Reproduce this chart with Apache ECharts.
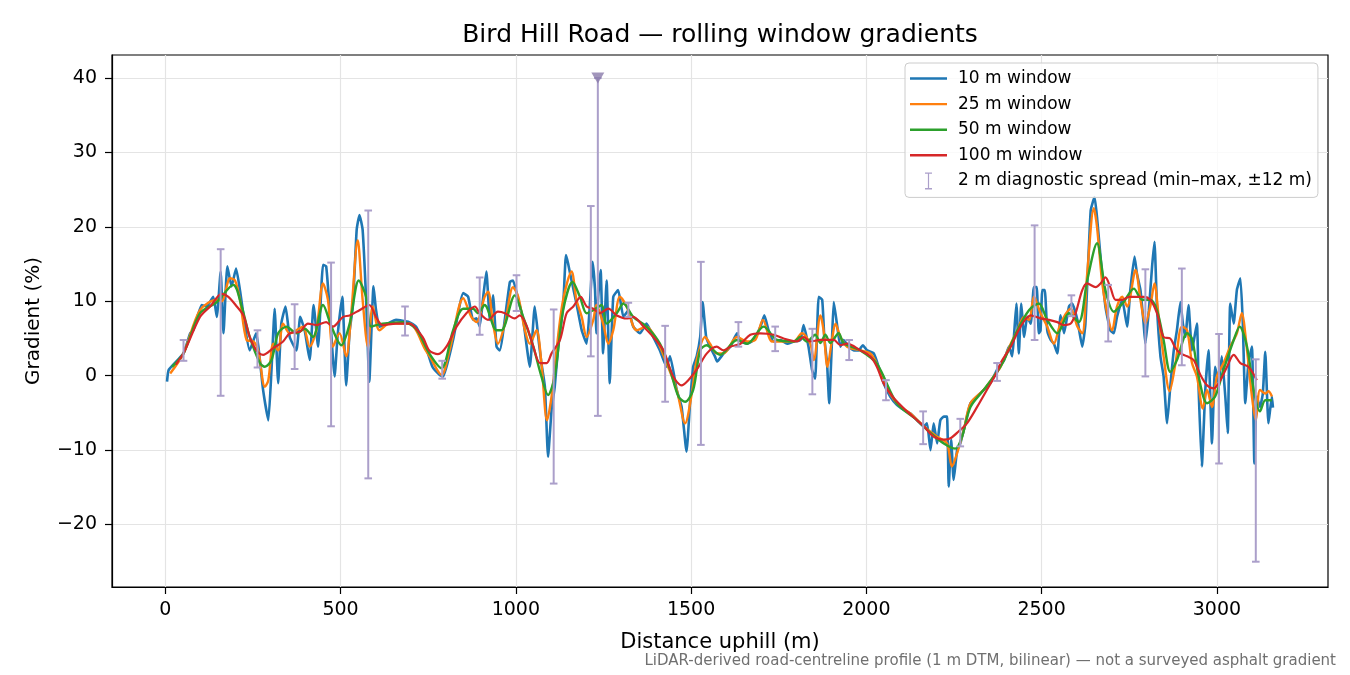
<!DOCTYPE html>
<html>
<head>
<meta charset="utf-8">
<title>Bird Hill Road gradients</title>
<script src="https://cdn.jsdelivr.net/npm/echarts@6/dist/echarts.min.js"></script>
<style>
  html, body { margin: 0; padding: 0; background: #fff; }
  #chart { width: 1350px; height: 675px; }
</style>
</head>
<body>
<div id="chart"></div>
<script>
// 10 m window (peaks and troughs)
var dist10 = [
  5,10,52,71,80,104,118,137,147,158,166,177,189,202,213,241,259,279,294,303,
  312,322,331,343,355,374,385,398,412,423,436,450,459,469,483,492,505,516,526,535,
  546,554,563,573,582,594,601,611,639,658,696,715,743,762,
  783,793,821,850,864,878,888,897,907,916,926,935,945,954,983,992,1007,1021,1040,1054,
  1064,1073,1083,1092,1102,1111,1121,1135,1143,1149,1159,1173,1188,1202,1211,1219,1226,1230,1235,1242,
  1249,1259,1268,1278,1292,1307,1321,1335,1354,1373,1392,1411,1430,1440,1459,1473,1487,1497,1506,1516,
  1526,1533,1543,1554,1568,
  1574,1593,1612,1631,1641,1660,1679,1698,1709,1721,1736,1755,1774,1793,1812,1821,1835,1845,1854,1864,
  1874,1880,1888,1894,1902,1907,1916,1926,1935,1950,1964,1978,1990,2002,2021,2035,2049,2068,2087,2107,
  2126,2145,2164,2173,2183,2192,2202,2211,2221,2230,2235,2242,2249,2259,2268,2278,2297,2316,2335,2354,2373,
  2393,2407,2416,2421,2428,2435,2442,2450,2459,2469,2478,2486,2492,2497,2502,2509,2516,2526,2535,2545,
  2554,2564,2578,2587,2602,2616,2625,2640,2651,2658,2668,2682,2696,2706,2715,2730,2744,2753,2765,2772,
  2782,2791,2796,2806,2815,2822,2829,2839,2848,2858,2867,2877,2886,2896,2903,2910,2919,2929,2943,2948,
  2957,2967,2976,2986,2995,3005,3014,3024,3031,3038,3048,3057,3067,3074,3081,3090,3100,3107,3114,3123,
  3131,3138,3147,3157,3160
];
var grad10 = [
  -0.8,0.8,3.0,5.7,6.1,9.5,9.3,10.6,7.9,14.0,5.7,14.7,12.0,14.4,11.5,3.4,5.7,-1.9,-6.0,0.8,
  9.0,-1.0,7.0,9.3,5.2,3.4,7.9,6.0,2.1,9.5,3.9,14.9,14.7,8.8,-0.1,5.6,10.6,-1.3,6.0,9.3,
  19.6,21.6,19.6,10.2,-0.8,12.0,8.9,6.6,7.1,7.5,7.2,6.6,3.9,1.2,
  0.1,-0.1,4.8,11.1,10.6,7.5,7.7,6.6,10.6,14.0,7.5,10.8,3.9,3.4,12.6,12.8,10.2,7.5,1.2,9.3,
  5.2,1.7,-1.5,-10.9,-4.6,-1.5,3.9,9.3,16.2,15.1,12.8,9.7,6.1,4.3,9.3,15.3,11.5,5.7,10.6,14.2,
  3.0,12.8,-1.0,10.6,11.5,7.9,8.8,6.6,5.7,7.0,5.2,3.4,1.2,2.6,-1.9,-4.2,-10.2,-3.7,1.2,2.6,
  5.2,9.9,5.2,3.9,2.6,
  1.9,3.0,3.9,5.7,4.6,4.3,4.8,6.6,8.1,6.1,4.6,4.8,4.3,4.6,4.8,6.8,3.9,0.8,-0.4,10.6,
  10.2,5.2,1.6,-3.7,4.8,9.9,7.0,3.9,4.8,3.9,3.4,3.4,4.1,3.4,3.0,1.2,-1.0,-2.8,-3.9,-4.6,
  -5.1,-6.0,-6.8,-6.4,-10.0,-6.4,-9.1,-6.0,-5.5,-5.5,-14.9,-8.6,-14.0,-10.0,-9.1,-7.3,-3.7,-2.8,-1.9,-1.0,0.8,
  2.1,3.9,2.6,5.2,9.7,3.0,9.7,5.2,7.9,7.0,11.9,11.9,5.7,6.1,11.5,11.5,6.1,4.8,4.3,3.0,
  8.1,5.7,9.3,9.7,7.5,3.9,7.0,22.2,24.0,21.3,16.0,9.3,6.1,5.7,7.9,10.2,6.6,11.5,16.0,13.7,
  11.5,7.0,4.3,8.8,14.6,18.0,9.3,2.6,-0.1,-6.4,-1.5,3.4,6.1,9.9,7.0,5.2,9.5,3.4,7.0,-1.9,
  -12.2,-1.9,3.4,-9.1,1.2,-1.0,2.6,-2.8,-7.7,9.7,7.0,11.5,13.1,7.0,-3.7,1.7,3.9,-11.8,-2.8,-4.2,
  -2.4,3.2,-6.4,-2.8,-4.3
];

// 25 m window
var dist25 = [
  14,52,99,147,161,185,199,213,232,251,265,284,294,308,322,336,355,374,393,412,
  431,450,464,478,497,516,530,549,563,578,592,611,639,696,743,
  754,788,811,850,873,888,911,921,935,949,969,992,1007,1026,1040,1059,1073,1089,1102,1116,
  1135,1159,1173,1188,1202,1221,1230,1249,1264,1278,1297,1316,1345,1373,1402,1430,1459,1483,1502,1516,
  1540,1554,1573,
  1593,1631,1660,1683,1705,1731,1755,1793,1816,1840,1850,1869,1878,1889,1902,1912,1926,1945,1983,2011,
  2030,2049,2087,2126,2164,2202,2230,2244,2259,2278,2297,2335,2373,
  2383,2412,2431,2450,2464,2478,2497,2516,2535,2554,2583,2602,2616,2630,2649,2658,2673,2687,2701,2715,
  2730,2744,2768,2782,2796,2810,2822,2834,2848,2865,2882,2900,2915,2929,2943,2960,2972,2986,3000,3019,
  3038,3057,3071,3086,3100,3111,3123,3138,3147,3157
];
var grad25 = [
  0.3,3.0,8.8,10.2,10.0,13.1,12.8,10.2,4.8,4.6,3.4,-1.5,-0.6,4.3,3.4,7.0,5.7,6.1,6.6,3.9,
  6.1,12.4,10.2,3.9,5.7,2.6,8.1,18.2,10.2,3.9,9.3,6.1,7.0,7.0,3.4,
  2.6,0.1,3.4,10.4,7.9,7.2,10.6,11.3,7.0,4.3,7.0,11.9,10.6,6.1,4.3,6.1,1.7,-6.0,-2.8,3.4,
  10.2,14.0,10.2,7.9,5.2,7.5,9.5,7.0,4.3,6.1,10.6,9.3,6.1,6.6,4.8,1.7,-1.9,-6.4,-2.4,2.1,
  5.2,4.3,3.0,
  3.0,5.2,4.6,4.8,7.5,4.6,4.6,4.6,5.7,4.3,2.1,8.1,6.1,1.2,4.8,7.0,5.2,3.9,3.4,3.0,
  1.6,-0.8,-3.7,-5.1,-6.8,-8.2,-9.1,-12.2,-10.4,-7.3,-3.7,-1.9,0.5,
  1.2,4.3,6.1,7.9,7.5,10.6,8.4,6.6,4.3,7.0,9.0,6.6,5.7,13.7,22.5,20.0,12.4,8.4,6.1,9.3,
  10.6,9.3,14.2,10.2,7.0,9.3,12.4,7.9,2.6,-2.1,1.7,6.6,6.1,1.7,-0.1,-4.4,-1.9,-4.2,-0.1,1.7,
  3.9,5.7,8.4,3.4,-2.8,-6.0,-1.9,-2.4,-2.1,-2.8
];

// 50 m window
var dist50 = [
  19,52,99,147,194,218,241,270,284,303,322,346,374,398,421,450,474,502,526,552,
  573,587,620,677,715,753,
  788,821,850,878,892,911,945,959,997,1021,1050,1073,1092,1111,1135,1162,1183,1202,1221,1245,
  1259,1288,1307,1335,1373,1411,1440,1464,1483,1506,1526,1545,1564,1583,
  1631,1660,1707,1745,1793,1812,1831,1854,1869,1883,1897,1921,1935,1983,2030,2087,2145,2183,2221,2254,
  2273,2297,2335,2373,
  2393,2431,2464,2492,2516,2545,2578,2606,2630,2658,2682,2706,2734,2763,2787,2810,2829,2848,2867,2886,
  2915,2929,2948,2972,2995,3019,3048,3065,3086,3105,3123,3138,3157
];
var grad50 = [
  1.2,3.0,8.4,9.9,12.2,9.3,5.2,1.7,1.2,2.1,5.7,6.6,5.7,6.3,5.2,9.5,6.6,4.1,7.0,12.8,
  10.6,6.6,7.0,7.2,6.3,3.0,
  1.0,6.1,9.0,9.0,8.4,9.5,6.1,6.1,10.8,7.9,3.9,-0.1,-2.6,-0.1,8.8,12.6,10.6,8.4,8.8,9.5,
  7.0,8.4,9.7,7.9,6.6,4.3,0.8,-2.8,-3.5,-1.9,3.4,4.1,3.4,2.8,
  4.8,4.3,6.6,4.8,4.6,5.2,4.6,5.5,4.4,5.5,4.4,5.7,4.4,3.4,1.6,-3.7,-6.0,-7.7,-9.1,-9.8,
  -8.2,-4.2,-1.9,0.5,
  2.1,6.1,8.8,9.7,7.5,5.7,8.4,7.2,12.8,17.8,11.5,8.6,9.9,11.7,10.2,10.2,8.8,4.8,0.5,2.1,
  5.7,5.0,-0.1,-3.7,-2.8,0.8,4.8,6.6,3.9,-1.9,-4.8,-3.3,-3.3
];

// 100 m window
var dist100 = [
  30,52,99,128,161,180,204,223,241,260,279,308,336,355,384,407,431,459,478,507,
  526,554,582,601,620,658,696,734,753,
  778,802,831,859,883,897,921,949,969,997,1011,1030,1050,1069,1088,1102,1126,1145,1164,1185,
  1202,1221,1240,1264,1288,1316,1335,1364,1392,1421,1449,1473,1492,1516,1545,1573,
  1593,1612,1641,1669,1698,1736,1764,1802,1821,1840,1869,1907,1926,1945,1983,2011,2030,2049,2078,2116,
  2145,2164,2192,2221,2240,2263,2287,2316,2344,2373,
  2383,2412,2440,2469,2497,2521,2545,2564,2583,2597,2616,2630,2654,2668,2682,2696,2711,2730,2749,2772,
  2791,2810,2829,2848,2867,2882,2896,2915,2934,2953,2972,2991,3010,3029,3048,3067,3090,3114
];
var grad100 = [
  1.5,3.0,7.9,9.3,11.0,10.6,9.3,8.1,5.2,3.4,2.8,3.7,4.6,5.7,5.9,7.0,6.8,7.2,6.6,7.9,
  8.1,8.8,9.5,7.9,6.8,7.0,7.0,5.2,3.4,
  2.9,3.9,6.6,8.4,9.3,8.4,7.5,8.6,8.4,7.7,8.1,6.8,3.9,1.7,1.7,3.0,4.8,8.4,9.3,10.6,
  9.3,9.0,8.4,9.0,8.1,7.7,7.9,6.6,5.2,3.4,-0.1,-1.3,-0.6,0.8,3.0,3.9,
  3.4,3.9,4.3,5.5,5.7,5.5,5.0,4.6,5.2,4.6,4.8,4.8,4.1,4.3,3.4,2.6,1.2,-1.0,-3.0,-4.8,
  -6.0,-6.8,-8.2,-8.6,-8.4,-7.5,-6.4,-4.2,-1.9,0.5,
  1.7,3.9,6.6,8.1,7.7,7.5,7.2,6.8,7.0,8.4,11.5,12.4,11.9,12.4,13.2,11.9,10.2,10.2,10.6,10.6,
  10.6,10.2,8.4,5.2,5.0,3.7,3.0,2.6,2.1,0.1,-1.3,-1.7,-0.6,1.2,2.8,1.7,1.2,-0.6
];

// 2 m diagnostic spread (min-max over +-12 m)
var spreadDist = [52,158,263,369,473,579,684,790,897,1002,1108,1214,1234,1321,1426,1528,
  1635,1740,1846,1951,2056,2162,2268,2373,2480,2585,2690,2796,2900,3006,3111];
var spreadMin = [2.0,-2.7,1.1,0.9,-6.8,-13.8,5.4,-0.4,5.5,8.7,-14.5,2.6,-5.4,7.9,-3.5,-9.3,
  3.9,3.3,-2.5,2.1,-3.3,-9.2,-9.5,-0.7,4.8,8.0,4.6,-0.1,1.4,-11.8,-25.0];
var spreadMax = [4.8,17.0,6.1,9.6,15.2,22.2,9.3,2.0,13.2,13.5,8.9,22.8,40.0,9.8,6.7,15.3,
  7.2,6.6,6.3,4.8,-0.6,-4.8,-5.8,1.7,20.2,10.8,12.2,14.3,14.4,5.6,2.2];
// spread that runs off the top of the axis
var clipDist = [1234];
var clipGrad = [40];

var xTicks = [0, 500, 1000, 1500, 2000, 2500, 3000];
var yTicks = [-20, -10, 0, 10, 20, 30, 40];

var names = ['10 m window', '25 m window', '50 m window', '100 m window',
  '2 m diagnostic spread (min\u2013max, \u00b112 m)'];
var colors = ['#1f77b4', '#ff7f0e', '#2ca02c', '#d62728'];
var barColor = '#ab9fca';
var font = 'DejaVu Sans';
var lineIcon = 'path://M0,0H37V2.4H0Z';

function pairs(xs, ys) {
  var out = [];
  for (var i = 0; i < xs.length; i++) out.push([xs[i], ys[i]]);
  return out;
}

var spreadData = [];
for (var i = 0; i < spreadDist.length; i++) {
  spreadData.push([spreadDist[i], spreadMin[i], spreadMax[i]]);
}

function renderSpread(params, api) {
  var lo = api.coord([api.value(0), api.value(1)]);
  var hi = api.coord([api.value(0), api.value(2)]);
  var c = 3.8;
  var st = { stroke: barColor, lineWidth: 2, fill: null };
  return {
    type: 'group',
    children: [
      { type: 'line', shape: { x1: lo[0], y1: lo[1], x2: hi[0], y2: hi[1] }, style: st },
      { type: 'line', shape: { x1: lo[0] - c, y1: lo[1], x2: lo[0] + c, y2: lo[1] }, style: st },
      { type: 'line', shape: { x1: hi[0] - c, y1: hi[1], x2: hi[0] + c, y2: hi[1] }, style: st }
    ]
  };
}

function lineSeries(idx, xs, ys, width, smooth) {
  return {
    name: names[idx],
    type: 'line',
    data: pairs(xs, ys),
    showSymbol: false,
    symbol: 'none',
    smooth: smooth,
    lineStyle: { color: colors[idx], width: width },
    itemStyle: { color: colors[idx] },
    emphasis: { disabled: true },
    animation: false
  };
}

function tickText(v) {
  return String(v).replace('-', '\u2212');
}

var chart = echarts.init(document.getElementById('chart'));

var option = {
  backgroundColor: '#fff',
  animation: false,
  title: [
    {
      text: 'Bird Hill Road \u2014 rolling window gradients',
      left: 715, top: 18, textAlign: 'center',
      textStyle: { fontFamily: font, fontSize: 25, fontWeight: 'normal', color: '#000' }
    },
    {
      text: 'LiDAR-derived road-centreline profile (1 m DTM, bilinear) \u2014 not a surveyed asphalt gradient',
      right: 9, top: 649,
      textStyle: { fontFamily: font, fontSize: 15, fontWeight: 'normal', color: '#707070' }
    }
  ],
  legend: {
    orient: 'vertical',
    left: 905, top: 63,
    padding: [7, 6, 8, 5],
    itemWidth: 37, itemHeight: 17, itemGap: 8.6,
    backgroundColor: 'rgba(255,255,255,0.8)',
    borderColor: '#cccccc', borderWidth: 1, borderRadius: 4,
    textStyle: { fontFamily: font, fontSize: 17, color: '#000', padding: [0, 0, 0, 6] },
    data: [
      { name: names[0], icon: lineIcon, itemStyle: { color: colors[0], borderWidth: 0 } },
      { name: names[1], icon: lineIcon, itemStyle: { color: colors[1], borderWidth: 0 } },
      { name: names[2], icon: lineIcon, itemStyle: { color: colors[2], borderWidth: 0 } },
      { name: names[3], icon: lineIcon, itemStyle: { color: colors[3], borderWidth: 0 } },
      { name: names[4], icon: 'path://M0,0H7V1.3H4.1V15.7H7V17H0V15.7H2.9V1.3H0Z',
        itemStyle: { color: barColor, borderWidth: 0 } }
    ],
    selectedMode: false
  },
  grid: {
    left: 112, right: 22, top: 55, bottom: 88,
    show: true, borderColor: '#000', borderWidth: 1.2, backgroundColor: 'transparent'
  },
  xAxis: {
    type: 'value', min: -152, max: 3317,
    name: 'Distance uphill (m)', nameLocation: 'middle', nameGap: 45,
    nameTextStyle: { fontFamily: font, fontSize: 21, color: '#000' },
    axisLine: { show: true, onZero: false, lineStyle: { color: '#000', width: 1.2 } },
    axisTick: { show: true, customValues: xTicks, length: 7, lineStyle: { color: '#000', width: 1.2 } },
    axisLabel: { customValues: xTicks, fontFamily: font, fontSize: 19, color: '#000', margin: 14,
      formatter: tickText },
    splitLine: { show: true, lineStyle: { color: '#e4e4e4', width: 1.2 } }
  },
  yAxis: {
    type: 'value', min: -28.4, max: 43.1,
    name: 'Gradient (%)', nameLocation: 'middle', nameGap: 68, nameRotate: 90,
    nameTextStyle: { fontFamily: font, fontSize: 20, color: '#000' },
    axisLine: { show: true, onZero: false, lineStyle: { color: '#000', width: 1.2 } },
    axisTick: { show: true, customValues: yTicks, length: 7, lineStyle: { color: '#000', width: 1.2 } },
    axisLabel: {
      customValues: yTicks, fontFamily: font, fontSize: 19, color: '#000', margin: 15,
      formatter: tickText
    },
    splitLine: { show: true, lineStyle: { color: '#e4e4e4', width: 1.2 } }
  },
  series: [
    lineSeries(0, dist10, grad10, 2.6, 0.15),
    lineSeries(1, dist25, grad25, 2.4, 0.3),
    lineSeries(2, dist50, grad50, 2.4, 0.3),
    lineSeries(3, dist100, grad100, 2.2, 0.3),
    {
      name: names[4],
      type: 'custom',
      renderItem: renderSpread,
      data: spreadData,
      encode: { x: 0, y: [1, 2] },
      itemStyle: { color: barColor },
      z: 5,
      silent: true,
      animation: false
    },
    {
      name: 'clipped',
      type: 'scatter',
      data: pairs(clipDist, clipGrad),
      symbol: 'triangle', symbolRotate: 180, symbolSize: [13, 11],
      itemStyle: { color: '#8a7aaa' },
      z: 6, silent: true, animation: false
    }
  ]
};

chart.setOption(option);
</script>
</body>
</html>
